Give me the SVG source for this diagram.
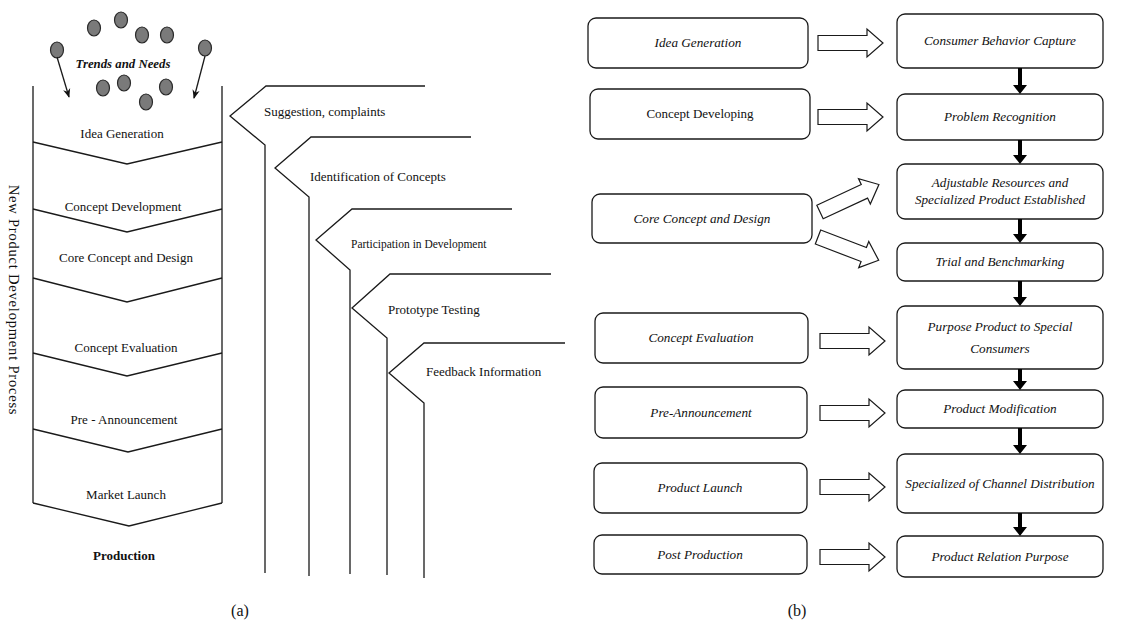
<svg xmlns="http://www.w3.org/2000/svg" width="1132" height="630" viewBox="0 0 1132 630">
<style>
.ln{fill:none;stroke:#1a1a1a;stroke-width:1.3}
.dot{fill:#7a7a7a;stroke:#2a2a2a;stroke-width:1.2}
.t{font-family:"Liberation Serif",serif;font-size:13px;fill:#111}
.ti{font-family:"Liberation Serif",serif;font-size:13.2px;font-style:italic;fill:#111}
.cap{font-family:"Liberation Serif",serif;font-size:16px;fill:#111}
.box{fill:#fff;stroke:#1a1a1a;stroke-width:1.3}
.ha{fill:#fff;stroke:#1a1a1a;stroke-width:1.2}
.da{fill:#000}
</style>
<defs>
<marker id="ah" viewBox="0 0 10 10" refX="9" refY="5" markerWidth="7" markerHeight="7" orient="auto">
<path d="M0,1 L10,5 L0,9 L3,5 z" fill="#111"/>
</marker>
<path id="harrow" d="M0,-7.5 L49,-7.5 L49,-14 L65,0 L49,14 L49,7.5 L0,7.5 Z"/>
</defs>
<rect width="1132" height="630" fill="#fff"/>

<!-- Panel (a) -->
<g id="trends">
<ellipse class="dot" cx="57" cy="50" rx="6.5" ry="8"/>
<ellipse class="dot" cx="94" cy="28" rx="6.5" ry="8"/>
<ellipse class="dot" cx="121" cy="20" rx="6.5" ry="8"/>
<ellipse class="dot" cx="142" cy="35" rx="6.5" ry="8"/>
<ellipse class="dot" cx="167" cy="35" rx="6.5" ry="8"/>
<ellipse class="dot" cx="205" cy="48" rx="6.5" ry="8"/>
<ellipse class="dot" cx="103" cy="88" rx="6.5" ry="8"/>
<ellipse class="dot" cx="124" cy="83" rx="6.5" ry="8"/>
<ellipse class="dot" cx="146" cy="102" rx="6.5" ry="8"/>
<ellipse class="dot" cx="166" cy="87" rx="6.5" ry="8"/>
<text class="t" x="123" y="68" text-anchor="middle" style="font-style:italic;font-weight:bold;font-size:12.8px">Trends and Needs</text>
</g>

<g id="funnel">
<path class="ln" d="M33,86 V503 M222,86 V503"/>
<path class="ln" d="M33,142 L127,164 L222,142"/>
<path class="ln" d="M33,209 L127,232 L222,209"/>
<path class="ln" d="M33,278 L127,302 L222,278"/>
<path class="ln" d="M33,353 L127,376 L222,353"/>
<path class="ln" d="M33,429 L128,452 L222,429"/>
<path class="ln" d="M33,503 L129,526 L222,503"/>
<text class="t" x="122" y="138" text-anchor="middle">Idea Generation</text>
<text class="t" x="123" y="211" text-anchor="middle">Concept Development</text>
<text class="t" x="126" y="262" text-anchor="middle">Core Concept and Design</text>
<text class="t" x="126" y="352" text-anchor="middle">Concept Evaluation</text>
<text class="t" x="124" y="424" text-anchor="middle">Pre - Announcement</text>
<text class="t" x="126" y="499" text-anchor="middle">Market Launch</text>
<text class="t" x="124" y="560" text-anchor="middle" style="font-weight:bold">Production</text>
<text class="t" transform="translate(9,300) rotate(90)" text-anchor="middle" style="font-size:14.5px;letter-spacing:0.8px">New Product Development Process</text>
</g>

<g id="feedback">
<path class="ln" d="M425,86 H266 L230,116 L265,145 V573"/>
<path class="ln" d="M471,137 H311 L275,168 L309,197 V576"/>
<path class="ln" d="M512,209 H352 L316,240 L350,270 V574"/>
<path class="ln" d="M551,274 H390 L352,308 L387,338 V575"/>
<path class="ln" d="M565,343 H424 L389,373 L424,403 V578"/>
<text class="t" x="264" y="116">Suggestion, complaints</text>
<text class="t" x="310" y="181">Identification of Concepts</text>
<text class="t" x="351" y="248" style="font-size:11.5px">Participation in Development</text>
<text class="t" x="388" y="314">Prototype Testing</text>
<text class="t" x="426" y="376">Feedback Information</text>
</g>

<g id="connectors-a">
<line class="ln" x1="57" y1="57" x2="69" y2="97" marker-end="url(#ah)"/>
<line class="ln" x1="205" y1="56" x2="194" y2="98" marker-end="url(#ah)"/>
</g>

<text class="cap" x="240" y="616" text-anchor="middle">(a)</text>

<!-- Panel (b) -->
<g id="l1"><rect class="box" x="588" y="18" width="220" height="50" rx="8"/><text class="ti" x="698" y="47" text-anchor="middle">Idea Generation</text></g>
<g id="l2"><rect class="box" x="590" y="89" width="220" height="50" rx="8"/><text class="t" x="700" y="118" text-anchor="middle">Concept Developing</text></g>
<g id="l3"><rect class="box" x="592" y="194" width="220" height="49" rx="8"/><text class="ti" x="702" y="223" text-anchor="middle">Core Concept and Design</text></g>
<g id="l4"><rect class="box" x="595" y="313" width="213" height="50" rx="8"/><text class="ti" x="701" y="342" text-anchor="middle">Concept Evaluation</text></g>
<g id="l5"><rect class="box" x="595" y="387" width="212" height="51" rx="8"/><text class="ti" x="701" y="417" text-anchor="middle">Pre-Announcement</text></g>
<g id="l6"><rect class="box" x="594" y="463" width="213" height="50" rx="8"/><text class="ti" x="700" y="492" text-anchor="middle">Product Launch</text></g>
<g id="l7"><rect class="box" x="594" y="535" width="213" height="39" rx="8"/><text class="ti" x="700" y="559" text-anchor="middle">Post Production</text></g>

<g id="r1"><rect class="box" x="897" y="14" width="206" height="54" rx="8"/><text class="ti" x="1000" y="45" text-anchor="middle">Consumer Behavior Capture</text></g>
<g id="r2"><rect class="box" x="897" y="94" width="206" height="46" rx="8"/><text class="ti" x="1000" y="121" text-anchor="middle">Problem Recognition</text></g>
<g id="r3"><rect class="box" x="897" y="164" width="206" height="55" rx="8"/><text class="ti" x="1000" y="187" text-anchor="middle">Adjustable Resources and</text><text class="ti" x="1000" y="204" text-anchor="middle">Specialized Product Established</text></g>
<g id="r4"><rect class="box" x="897" y="243" width="206" height="38" rx="8"/><text class="ti" x="1000" y="266" text-anchor="middle">Trial and Benchmarking</text></g>
<g id="r5"><rect class="box" x="897" y="306" width="206" height="63" rx="8"/><text class="ti" x="1000" y="331" text-anchor="middle">Purpose Product to Special</text><text class="ti" x="1000" y="353" text-anchor="middle">Consumers</text></g>
<g id="r6"><rect class="box" x="897" y="390" width="206" height="38" rx="8"/><text class="ti" x="1000" y="413" text-anchor="middle">Product Modification</text></g>
<g id="r7"><rect class="box" x="897" y="454" width="206" height="59" rx="8"/><text class="ti" x="1000" y="488" text-anchor="middle">Specialized of Channel Distribution</text></g>
<g id="r8"><rect class="box" x="897" y="536" width="206" height="41" rx="8"/><text class="ti" x="1000" y="561" text-anchor="middle">Product Relation Purpose</text></g>

<g id="connectors-b">
<use href="#harrow" class="ha" transform="translate(818,43)"/>
<use href="#harrow" class="ha" transform="translate(818,117)"/>
<use href="#harrow" class="ha" transform="translate(820,212) rotate(-25)"/>
<use href="#harrow" class="ha" transform="translate(818,237) rotate(21)"/>
<use href="#harrow" class="ha" transform="translate(820,341)"/>
<use href="#harrow" class="ha" transform="translate(820,413)"/>
<use href="#harrow" class="ha" transform="translate(820,487)"/>
<use href="#harrow" class="ha" transform="translate(820,557)"/>
<path class="da" d="M1018,68 h4 v17 h5 l-7,9 l-7,-9 h5 z"/>
<path class="da" d="M1018,140 h4 v15 h5 l-7,9 l-7,-9 h5 z"/>
<path class="da" d="M1018,219 h4 v15 h5 l-7,9 l-7,-9 h5 z"/>
<path class="da" d="M1018,281 h4 v16 h5 l-7,9 l-7,-9 h5 z"/>
<path class="da" d="M1018,369 h4 v12 h5 l-7,9 l-7,-9 h5 z"/>
<path class="da" d="M1018,428 h4 v17 h5 l-7,9 l-7,-9 h5 z"/>
<path class="da" d="M1018,513 h4 v14 h5 l-7,9 l-7,-9 h5 z"/>
</g>

<text class="cap" x="797" y="616" text-anchor="middle">(b)</text>
</svg>
